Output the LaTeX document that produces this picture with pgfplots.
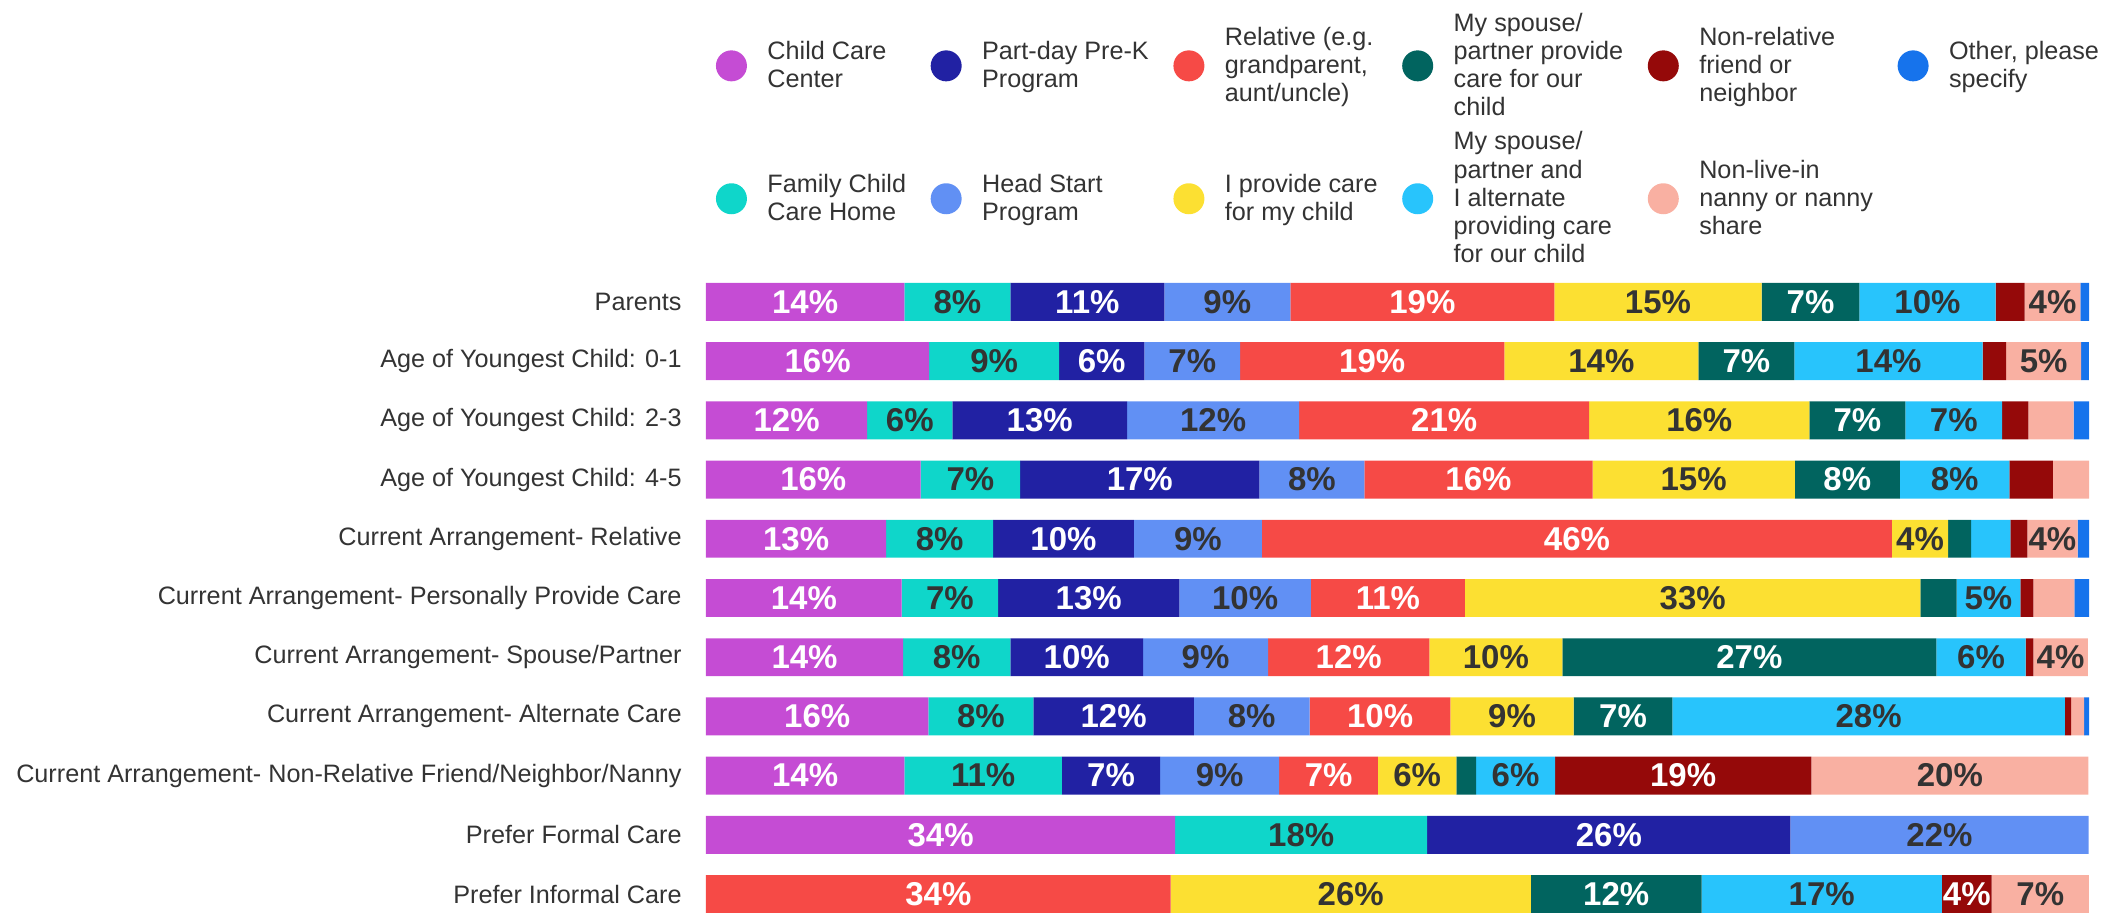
\documentclass[border=0pt]{standalone}
\usepackage{pgfplots}
\pgfplotsset{compat=1.18}
\usepackage{pgfplotstable}
\usepackage{fontspec}
\setmainfont{Liberation Sans}
\definecolor{cCCC}{HTML}{C54CD4}
\definecolor{cFCC}{HTML}{0FD6CA}
\definecolor{cPK}{HTML}{2121A3}
\definecolor{cHS}{HTML}{6190F4}
\definecolor{cRel}{HTML}{F64A46}
\definecolor{cIP}{HTML}{FCE032}
\definecolor{cSP}{HTML}{01645F}
\definecolor{cALT}{HTML}{28C4FC}
\definecolor{cNR}{HTML}{950909}
\definecolor{cNAN}{HTML}{F9B0A2}
\definecolor{cOTH}{HTML}{1673EC}
\definecolor{txt}{HTML}{333333}

\pgfplotstableread{
y s1 s2 s3 s4 s5 s6 s7 s8 s9 s10 s11
0 14.34 7.67 11.13 9.11 19.09 14.99 7.07 9.84 2.11 4.03 0.63
1 16.14 9.40 6.15 6.94 19.09 14.04 6.94 13.60 1.71 5.42 0.56
2 11.66 6.15 12.64 12.44 20.97 15.92 6.94 7.00 1.89 3.27 1.12
3 15.52 7.20 17.29 7.60 16.49 14.63 7.59 7.93 3.13 2.71 0
4 13.03 7.73 10.18 9.26 45.55 4.06 1.66 2.84 1.23 3.63 0.89
5 14.15 6.97 13.10 9.52 11.14 32.93 2.61 4.62 0.93 2.97 1.06
6 14.25 7.76 9.59 9.04 11.67 9.61 27.05 6.45 0.56 3.93 0
7 16.08 7.60 11.59 8.38 10.18 8.91 7.14 28.37 0.46 0.93 0.46
8 14.34 11.40 7.10 8.61 7.14 5.67 1.42 5.71 18.53 20.04 0
9 33.93 18.22 26.26 21.56 0 0 0 0 0 0 0
10 0 0 0 0 33.60 26.04 12.35 17.37 3.60 7.03 0
}\data

\pgfplotsset{
  common/.style={
    scale only axis,
    width=691.5pt, height=315pt,
    xmin=0, xmax=100,
    ymin=-0.32, ymax=10.32,
    y dir=reverse,
  },
}

\newcommand{\seg}[3]{%
\addplot[fill=#2, draw=none,
  legend image code/.code={\fill[#2] (7.75pt,0pt) circle (7.75pt);},
] table[x=#1,y=y]{\data};
\addlegendentry{#3}}

\newcommand{\lab}[3]{%
\addplot[draw=none, point meta=explicit, unbounded coords=discard,
  x filter/.expression={\thisrow{#2}<3.5 ? nan : x},
  nodes near coords={\pgfmathprintnumber[fixed,precision=0,assume math mode=true]{\pgfplotspointmeta}\%},
  every node near coord/.append style={anchor=center, inner sep=0pt,
    font=\fontsize{16.5}{18}\selectfont\bfseries, text=#3},
] table[x expr={#1}, y=y, meta=#2]{\data};}

\begin{document}
\begin{tikzpicture}
\begin{axis}[
  common,
  xbar stacked,
  bar width=0.64,
  axis line style={draw=none},
  tick style={draw=none},
  major tick length=0pt,
  xtick=\empty,
  ytick={0,...,10},
  yticklabels={Parents,Age of Youngest Child: 0-1,Age of Youngest Child: 2-3,Age of Youngest Child: 4-5,Current Arrangement- Relative,Current Arrangement- Personally Provide Care,Current Arrangement- Spouse/Partner,Current Arrangement- Alternate Care,Current Arrangement- Non-Relative Friend/Neighbor/Nanny,Prefer Formal Care,Prefer Informal Care},
  yticklabel style={font=\fontsize{12.6}{14}\selectfont, text=txt, inner sep=0pt, xshift=-12pt},
  legend columns=2, transpose legend,
  legend style={at={(0.0072,1.027)}, anchor=south west, draw=none, fill=none,
    inner sep=0pt, outer sep=0pt,
    font=\fontsize{12.6}{14.15}\selectfont, text=txt,
    nodes={align=left, inner sep=0pt},
    cells={anchor=west},
    row sep=6.3pt,
    /tikz/every odd column/.append style={column sep=10.25pt},
    /tikz/every even column/.append style={column sep=12.3pt},
  },
]
\seg{s1}{cCCC}{Child Care\\Center}
\seg{s2}{cFCC}{Family Child\\Care Home}
\seg{s3}{cPK}{Part-day Pre-K\\Program}
\seg{s4}{cHS}{Head Start\\Program}
\seg{s5}{cRel}{Relative (e.g.\\grandparent,\\aunt/uncle)}
\seg{s6}{cIP}{I provide care\\for my child}
\seg{s7}{cSP}{My spouse/\\partner provide\\care for our\\child}
\seg{s8}{cALT}{My spouse/\\partner and\\I alternate\\providing care\\for our child}
\seg{s9}{cNR}{Non-relative\\friend or\\neighbor}
\seg{s10}{cNAN}{Non-live-in\\nanny or nanny\\share}
\seg{s11}{cOTH}{Other, please\\specify}
\coordinate (bl) at (axis description cs:0,0);
\coordinate (tr) at (axis description cs:1,1);
\end{axis}
\begin{axis}[common, hide axis]
\lab{\thisrow{s1}/2}{s1}{white}
\lab{\thisrow{s1}+\thisrow{s2}/2}{s2}{txt}
\lab{\thisrow{s1}+\thisrow{s2}+\thisrow{s3}/2}{s3}{white}
\lab{\thisrow{s1}+\thisrow{s2}+\thisrow{s3}+\thisrow{s4}/2}{s4}{txt}
\lab{\thisrow{s1}+\thisrow{s2}+\thisrow{s3}+\thisrow{s4}+\thisrow{s5}/2}{s5}{white}
\lab{\thisrow{s1}+\thisrow{s2}+\thisrow{s3}+\thisrow{s4}+\thisrow{s5}+\thisrow{s6}/2}{s6}{txt}
\lab{\thisrow{s1}+\thisrow{s2}+\thisrow{s3}+\thisrow{s4}+\thisrow{s5}+\thisrow{s6}+\thisrow{s7}/2}{s7}{white}
\lab{\thisrow{s1}+\thisrow{s2}+\thisrow{s3}+\thisrow{s4}+\thisrow{s5}+\thisrow{s6}+\thisrow{s7}+\thisrow{s8}/2}{s8}{txt}
\lab{\thisrow{s1}+\thisrow{s2}+\thisrow{s3}+\thisrow{s4}+\thisrow{s5}+\thisrow{s6}+\thisrow{s7}+\thisrow{s8}+\thisrow{s9}/2}{s9}{white}
\lab{\thisrow{s1}+\thisrow{s2}+\thisrow{s3}+\thisrow{s4}+\thisrow{s5}+\thisrow{s6}+\thisrow{s7}+\thisrow{s8}+\thisrow{s9}+\thisrow{s10}/2}{s10}{txt}
\end{axis}
\pgfresetboundingbox
\path[use as bounding box] ([xshift=-353pt]bl) rectangle ([xshift=13.5pt,yshift=141.5pt]tr);
\end{tikzpicture}
\end{document}
